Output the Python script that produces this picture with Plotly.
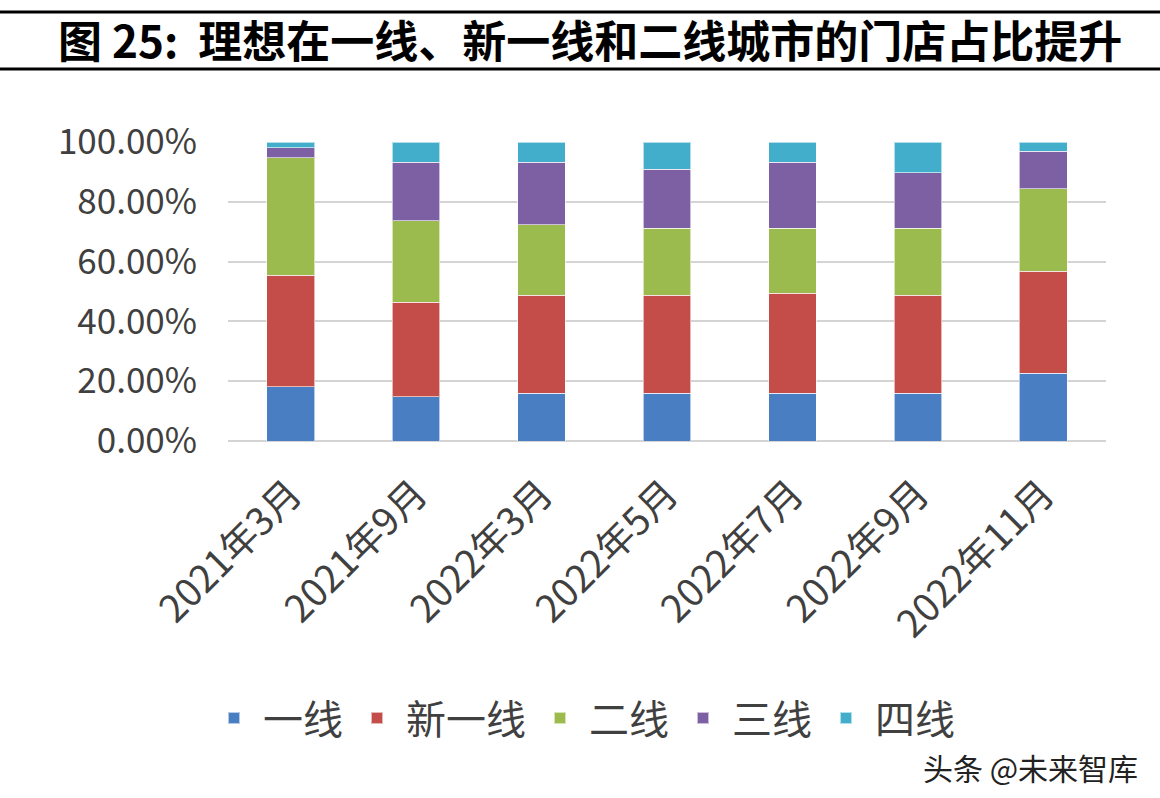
import plotly.graph_objects as go

categories = ["2021年3月", "2021年9月", "2022年3月", "2022年5月", "2022年7月", "2022年9月", "2022年11月"]
tier1 = [18.1, 14.8, 16.0, 16.0, 16.0, 16.0, 22.6]
new_tier1 = [37.3, 31.6, 32.7, 32.7, 33.4, 32.7, 34.2]
tier2 = [39.3, 27.2, 23.7, 22.5, 21.8, 22.5, 27.5]
tier3 = [3.4, 19.7, 20.9, 19.7, 22.1, 18.5, 12.6]
tier4 = [1.9, 6.7, 6.7, 9.1, 6.7, 10.3, 3.1]
series_names = ["一线", "新一线", "二线", "三线", "四线"]
tick_vals = [0, 20, 40, 60, 80, 100]
tick_text = ["0.00%", "20.00%", "40.00%", "60.00%", "80.00%", "100.00%"]
title_text = "图 25:  理想在一线、新一线和二线城市的门店占比提升"
watermark = "头条 @未来智库"

colors = ["#4A7EC2", "#C44D49", "#9BBB4F", "#7D5FA3", "#43AECB"]
series = [tier1, new_tier1, tier2, tier3, tier4]

W, H = 1160, 798
ml, mr, mt, mb = 228, 54, 142, 357
pw = W - ml - mr
ph = H - mt - mb

def px_x(x):
    return (x - ml) / pw

def px_y(y):
    return (H - mb - y) / ph

fig = go.Figure()
for name, vals, c in zip(series_names, series, colors):
    fig.add_trace(go.Bar(
        x=categories, y=vals, name=name,
        marker=dict(color=c, line=dict(color="rgba(255,255,255,0.6)", width=1)),
        width=0.38,
    ))

font_main = "Noto Sans CJK SC, sans-serif"
fig.update_layout(
    width=W, height=H,
    barmode="stack",
    margin=dict(l=ml, r=mr, t=mt, b=mb, autoexpand=False),
    paper_bgcolor="white", plot_bgcolor="white",
    showlegend=True,
    legend=dict(
        orientation="h", x=px_x(205), y=px_y(718), xanchor="left", yanchor="middle",
        font=dict(family=font_main, size=40, color="#404040"),
        itemwidth=48,
        itemsizing="constant", traceorder="normal",
    ),
    xaxis=dict(
        showgrid=False, showline=False, zeroline=False,
        tickangle=-45, ticks="",
        tickfont=dict(family=font_main, size=38, color="#404040"),
        ticklabelstandoff=22,
        range=[-0.5, 6.5],
    ),
    yaxis=dict(
        range=[0, 100], tickvals=tick_vals, ticktext=tick_text,
        showgrid=True, gridcolor="#D4D4D4", gridwidth=1.5,
        zeroline=True, zerolinecolor="#D4D4D4", zerolinewidth=1.5,
        showline=False, ticks="",
        tickfont=dict(family=font_main, size=35, color="#404040"),
        ticklabelstandoff=30,
    ),
    shapes=[
        dict(type="line", xref="paper", yref="paper", x0=px_x(0), x1=px_x(W),
             y0=px_y(12), y1=px_y(12), line=dict(color="black", width=3)),
        dict(type="line", xref="paper", yref="paper", x0=px_x(0), x1=px_x(W),
             y0=px_y(69), y1=px_y(69), line=dict(color="black", width=3)),
    ],
    annotations=[
        dict(text=title_text, xref="paper", yref="paper", x=px_x(590), y=px_y(39),
             xanchor="center", yanchor="middle", showarrow=False,
             font=dict(family=font_main, size=44, color="black", weight="bold")),
        dict(text=watermark, xref="paper", yref="paper", x=px_x(1140), y=px_y(767),
             xanchor="right", yanchor="middle", showarrow=False,
             font=dict(family=font_main, size=30, color="#222222")),
    ],
)

fig.write_html("out.html", config={"displayModeBar": False},
               post_script="document.body.style.margin='0px';")
